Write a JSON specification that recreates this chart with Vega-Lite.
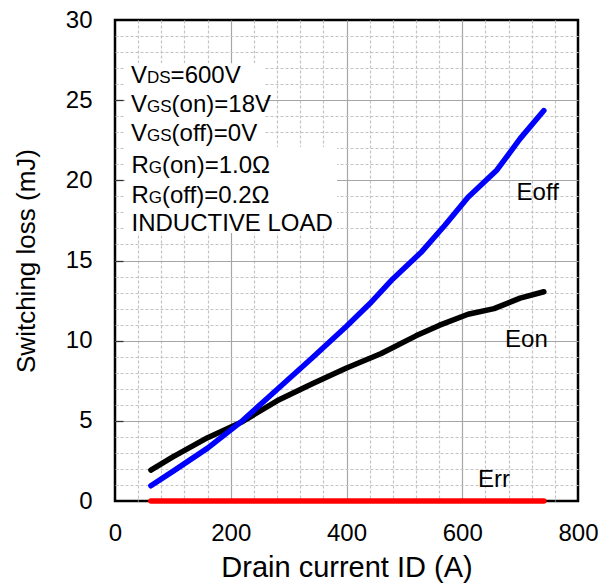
{
  "$schema": "https://vega.github.io/schema/vega-lite/v6.json",
  "width": 463,
  "height": 481,
  "autosize": {"type": "none"},
  "padding": {"left": 115, "top": 20, "right": 33, "bottom": 83},
  "background": "white",
  "config": {
    "font": "Liberation Sans",
    "view": {"stroke": "black", "strokeWidth": 2.5},
    "axis": {"labelColor": "black", "titleColor": "black", "titleFontWeight": "normal", "labelOverlap": false, "labelFlush": false, "labelBound": false, "domain": false, "ticks": false}
  },
  "datasets": {
    "curves": [
      {"series": "Err", "x": 62, "y": 0},
      {"series": "Err", "x": 200, "y": 0},
      {"series": "Err", "x": 400, "y": 0},
      {"series": "Err", "x": 600, "y": 0},
      {"series": "Err", "x": 741, "y": 0},
      {"series": "Eon", "x": 62, "y": 1.93},
      {"series": "Eon", "x": 100, "y": 2.75},
      {"series": "Eon", "x": 160, "y": 3.95},
      {"series": "Eon", "x": 220, "y": 4.95},
      {"series": "Eon", "x": 280, "y": 6.25},
      {"series": "Eon", "x": 340, "y": 7.3},
      {"series": "Eon", "x": 400, "y": 8.3},
      {"series": "Eon", "x": 460, "y": 9.2},
      {"series": "Eon", "x": 520, "y": 10.3},
      {"series": "Eon", "x": 560, "y": 10.95},
      {"series": "Eon", "x": 610, "y": 11.65},
      {"series": "Eon", "x": 655, "y": 12.0},
      {"series": "Eon", "x": 700, "y": 12.65},
      {"series": "Eon", "x": 741, "y": 13.05},
      {"series": "Eoff", "x": 62, "y": 0.95},
      {"series": "Eoff", "x": 100, "y": 1.85},
      {"series": "Eoff", "x": 160, "y": 3.3},
      {"series": "Eoff", "x": 220, "y": 5.0},
      {"series": "Eoff", "x": 280, "y": 6.95},
      {"series": "Eoff", "x": 340, "y": 8.9},
      {"series": "Eoff", "x": 400, "y": 10.9},
      {"series": "Eoff", "x": 440, "y": 12.3},
      {"series": "Eoff", "x": 480, "y": 13.85},
      {"series": "Eoff", "x": 530, "y": 15.55},
      {"series": "Eoff", "x": 570, "y": 17.2},
      {"series": "Eoff", "x": 610, "y": 18.95},
      {"series": "Eoff", "x": 660, "y": 20.65},
      {"series": "Eoff", "x": 700, "y": 22.6},
      {"series": "Eoff", "x": 741, "y": 24.35}
    ],
    "boxes": [
      {"x": 17.3, "x2": 259, "y": 27.3, "y2": 22.08},
      {"x": 17.3, "x2": 383.6, "y": 22.08, "y2": 16.72}
    ],
    "bigText": [
      {"x": 27.6, "y": 26.07, "t": "V"},
      {"x": 96.1, "y": 26.07, "t": "=600V"},
      {"x": 27.6, "y": 24.27, "t": "V"},
      {"x": 97.8, "y": 24.27, "t": "(on)=18V"},
      {"x": 27.6, "y": 22.43, "t": "V"},
      {"x": 97.8, "y": 22.43, "t": "(off)=0V"},
      {"x": 28.5, "y": 20.46, "t": "R"},
      {"x": 81.2, "y": 20.46, "t": "(on)=1.0Ω"},
      {"x": 28.5, "y": 18.59, "t": "R"},
      {"x": 81.2, "y": 18.59, "t": "(off)=0.2Ω"},
      {"x": 28.5, "y": 16.84, "t": "INDUCTIVE LOAD"},
      {"x": 693.8, "y": 18.78, "t": "Eoff"},
      {"x": 674, "y": 9.63, "t": "Eon"},
      {"x": 627, "y": 0.89, "t": "Err"}
    ],
    "smallText": [
      {"x": 55.3, "y": 26.07, "t": "DS"},
      {"x": 55.3, "y": 24.27, "t": "GS"},
      {"x": 55.3, "y": 22.43, "t": "GS"},
      {"x": 58.4, "y": 20.46, "t": "G"},
      {"x": 58.4, "y": 18.59, "t": "G"}
    ]
  },
  "encoding": {
    "x": {
      "field": "x", "type": "quantitative",
      "scale": {"domain": [0, 800], "nice": false},
      "axis": {
        "title": "Drain current ID (A)",
        "values": [0, 40, 80, 120, 160, 200, 240, 280, 320, 360, 400, 440, 480, 520, 560, 600, 640, 680, 720, 760, 800],
        "labelExpr": "datum.value % 200 === 0 ? datum.label : ''",
        "grid": true,
        "gridColor": {"condition": {"test": "datum.value % 200 === 0", "value": "#a6a6a6"}, "value": "#c4c4c4"},
        "gridDash": {"condition": {"test": "datum.value % 200 === 0", "value": [1, 0]}, "value": [3, 2]},
        "gridOpacity": {"condition": {"test": "datum.value === 0 || datum.value === 800", "value": 0}, "value": 1},
        "gridWidth": 1.2,
        "labelFontSize": 24,
        "labelPadding": 20,
        "titleFontSize": 29,
        "titlePadding": 8
      }
    },
    "y": {
      "field": "y", "type": "quantitative",
      "scale": {"domain": [0, 30], "nice": false},
      "axis": {
        "title": "Switching loss (mJ)",
        "values": [0, 1, 2, 3, 4, 5, 6, 7, 8, 9, 10, 11, 12, 13, 14, 15, 16, 17, 18, 19, 20, 21, 22, 23, 24, 25, 26, 27, 28, 29, 30],
        "labelExpr": "datum.value % 5 === 0 ? datum.label : ''",
        "grid": true,
        "gridColor": {"condition": {"test": "datum.value % 5 === 0", "value": "#a6a6a6"}, "value": "#c4c4c4"},
        "gridDash": {"condition": {"test": "datum.value % 5 === 0", "value": [1, 0]}, "value": [3, 2]},
        "gridOpacity": {"condition": {"test": "datum.value === 0 || datum.value === 30", "value": 0}, "value": 1},
        "gridWidth": 1.2,
        "ticks": true,
        "tickSize": -8,
        "tickWidth": 1.3,
        "tickColor": "#333333",
        "tickOpacity": {"condition": {"test": "datum.value % 5 === 0 && datum.value > 0 && datum.value < 30", "value": 1}, "value": 0},
        "labelFontSize": 24,
        "labelPadding": 31,
        "titleFontSize": 26,
        "titlePadding": 26
      }
    }
  },
  "layer": [
    {
      "data": {"name": "boxes"},
      "mark": {"type": "rect", "fill": "white"},
      "encoding": {
        "x2": {"field": "x2"},
        "y2": {"field": "y2"}
      }
    },
    {
      "data": {"name": "curves"},
      "mark": {"type": "line", "strokeWidth": 5.5, "strokeCap": "round", "strokeJoin": "round"},
      "encoding": {
        "color": {
          "field": "series", "type": "nominal",
          "scale": {"domain": ["Err", "Eon", "Eoff"], "range": ["#ff0000", "#000000", "#0000ff"]},
          "legend": null
        }
      }
    },
    {
      "data": {"name": "bigText"},
      "mark": {"type": "text", "fontSize": 24, "align": "left", "baseline": "alphabetic", "color": "black"},
      "encoding": {
        "text": {"field": "t"}
      }
    },
    {
      "data": {"name": "smallText"},
      "mark": {"type": "text", "fontSize": 17, "align": "left", "baseline": "alphabetic", "color": "black"},
      "encoding": {
        "text": {"field": "t"}
      }
    }
  ]
}
